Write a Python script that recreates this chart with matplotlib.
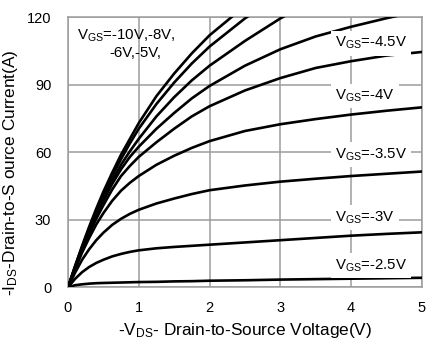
import matplotlib
matplotlib.use("Agg")
import matplotlib.pyplot as plt

plt.rcParams['font.family'] = ['Liberation Sans', 'DejaVu Sans']
plt.rcParams['mathtext.fontset'] = 'custom'
plt.rcParams['mathtext.rm'] = 'Liberation Sans'
plt.rcParams['mathtext.default'] = 'regular'

# drain-source voltage (V)
vds = [0, 0.1, 0.2, 0.3, 0.4, 0.5, 0.625, 0.75, 0.875, 1,
       1.25, 1.5, 1.75, 2, 2.5, 3, 3.5, 4, 4.5, 5]

# drain current (A) per gate voltage
id_10v = [0, 9.5, 18.5, 27, 35, 42.5, 51, 59, 66, 73,
          85, 95, 104, 112, 125, 135, 144, 152, 159, 165]
id_8v = [0, 9.2, 18, 26.3, 34, 41, 49.5, 57, 64, 70.5,
         81.5, 91, 99.5, 107, 119.5, 130, 139, 146, 152, 157]
id_6v = [0, 9, 17.5, 25.5, 33, 39.5, 47.5, 54.5, 60.5, 66,
         76, 84.5, 92, 98.5, 109.5, 119.5, 128, 135, 141, 146]
id_5v = [0, 8.8, 17, 24.8, 32, 38.5, 46, 52.5, 58, 62.5,
         70.5, 77.5, 84, 89.5, 98.5, 105.8, 111.5, 115.8, 119.6, 123]
id_4v5 = [0, 8.5, 16.3, 23.7, 30.5, 36.5, 43.5, 49.5, 54, 58,
          64.5, 70.5, 76, 80.5, 87.5, 93, 97.5, 100.5, 103, 104.6]
id_4v = [0, 8, 15.5, 22, 28, 33, 38.5, 43, 46.5, 49.5,
         54.5, 58.5, 62, 65, 69.5, 72.5, 74.8, 76.8, 78.5, 80]
id_3v5 = [0, 6.5, 12.3, 17, 21, 24.3, 27.8, 30.5, 32.7, 34.5,
          37.3, 39.5, 41.5, 43.2, 45.3, 47, 48.3, 49.5, 50.5, 51.5]
id_3v = [0, 3.8, 6.8, 9.1, 10.9, 12.3, 13.8, 14.9, 15.8, 16.5,
         17.4, 18, 18.5, 19, 20, 21, 22, 23, 23.8, 24.5]
id_2v5 = [0, 1.0, 1.4, 1.7, 1.9, 2.0, 2.1, 2.2, 2.3, 2.4,
          2.5, 2.7, 2.8, 3.0, 3.2, 3.5, 3.7, 3.9, 4.1, 4.3]

curves = [id_10v, id_8v, id_6v, id_5v, id_4v5, id_4v, id_3v5, id_3v, id_2v5]

# labels drawn on the right side, with their y position
labels = ['V$_{GS}$=-4.5V', 'V$_{GS}$=-4V', 'V$_{GS}$=-3.5V', 'V$_{GS}$=-3V', 'V$_{GS}$=-2.5V']
label_y = [108.5, 85, 59, 31, 9.7]

fig = plt.figure(figsize=(4.47, 3.39), dpi=100)
ax = fig.add_axes([0.152, 0.152, 0.792, 0.797])

for c in curves:
    ax.plot(vds, c, color='black', lw=1.9, solid_capstyle='round', zorder=3)

ax.set_xlim(0, 5)
ax.set_ylim(0, 120)
ax.set_xticks(range(0, 6))
ax.set_yticks([0, 30, 60, 90, 120])
ax.grid(True, color='#9c9c9c', lw=1.1, zorder=1)
ax.set_axisbelow(True)
for s in ax.spines.values():
    s.set_color('#9c9c9c')
    s.set_linewidth(1.1)
ax.tick_params(axis='both', length=0, labelsize=10.5)
ax.tick_params(axis='x', pad=9.5)
ax.tick_params(axis='y', pad=12)

ax.set_xlabel('-V$_{DS}$- Drain-to-Source Voltage(V)', fontsize=12.4, labelpad=4.5)
ax.set_ylabel('-I$_{DS}$-Drain-to-S ource Current(A)', fontsize=12.4)
ax.yaxis.set_label_coords(-0.135, 0.425)

ax.text(0.13, 112, 'V$_{GS}$=-10V,-8V,', fontsize=10.8, va='center', ha='left', zorder=4)
ax.text(0.59, 104, '-6V,-5V,', fontsize=10.8, va='center', ha='left', zorder=4)

for lab, yy in zip(labels, label_y):
    ax.text(3.77, yy, lab, fontsize=10.8, va='center', ha='left', zorder=5,
            bbox=dict(facecolor='white', edgecolor='none', pad=3))

fig.savefig('out.png', dpi=100)
